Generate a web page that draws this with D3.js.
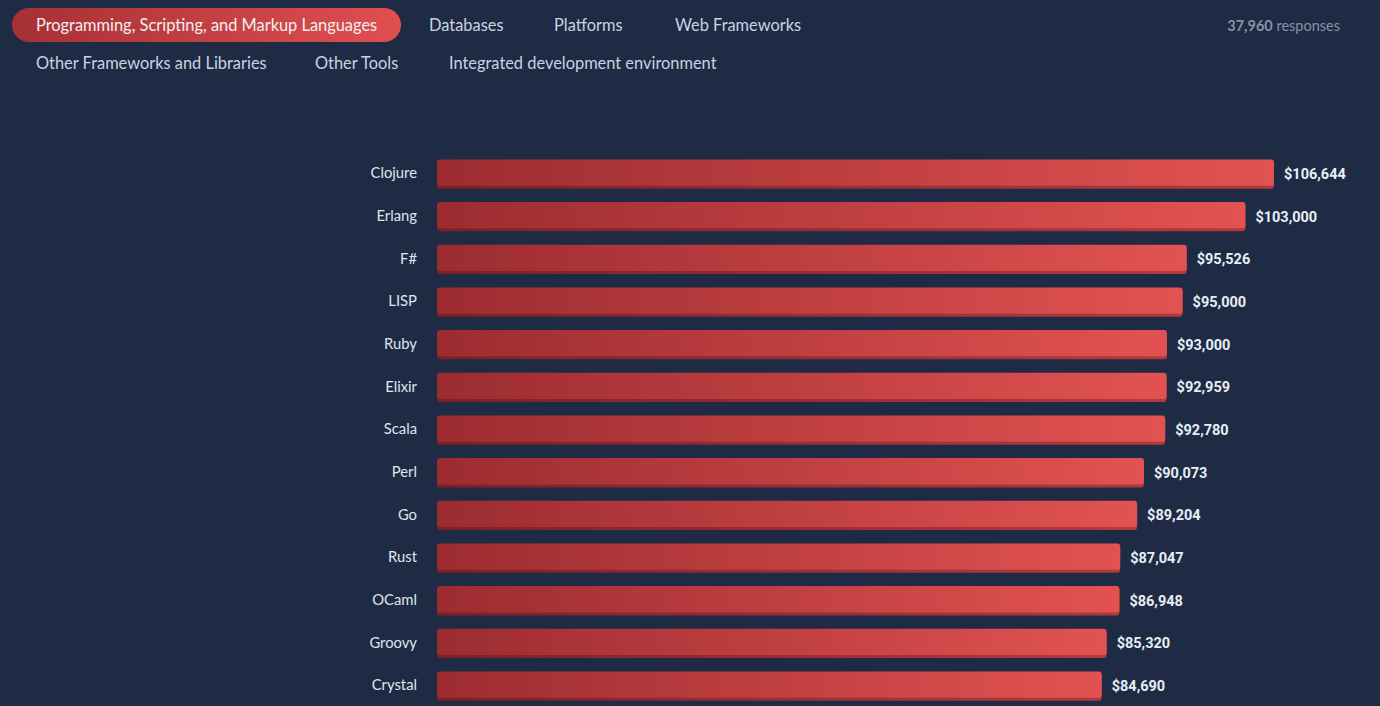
<!DOCTYPE html>
<html><head><meta charset="utf-8">
<script src="https://cdn.jsdelivr.net/npm/d3@7"></script>
<style>
html,body{margin:0;padding:0;background:#1f2a44;}
svg{display:block;}
</style></head>
<body>
<svg id="chart" width="1380" height="706"></svg>
<script>
const languages = ["Clojure","Erlang","F#","LISP","Ruby","Elixir","Scala","Perl","Go","Rust","OCaml","Groovy","Crystal"];
const salaries = [106644,103000,95526,95000,93000,92959,92780,90073,89204,87047,86948,85320,84690];
const tabsRow1 = ["Programming, Scripting, and Markup Languages","Databases","Platforms","Web Frameworks"];
const tabsRow2 = ["Other Frameworks and Libraries","Other Tools","Integrated development environment"];
const responses = 37960;

const svg = d3.select("#chart");
const W = 1380, H = 706;
svg.append("rect").attr("width",W).attr("height",H).attr("fill","#1f2a44");

const defs = svg.append("defs");
const g1 = defs.append("linearGradient").attr("id","barGrad").attr("x1","0%").attr("x2","100%");
g1.append("stop").attr("offset","0%").attr("stop-color","#9c2c30");
g1.append("stop").attr("offset","100%").attr("stop-color","#e35252");
const g2 = defs.append("linearGradient").attr("id","barShade").attr("x1","0%").attr("x2","100%");
g2.append("stop").attr("offset","0%").attr("stop-color","#7a2226");
g2.append("stop").attr("offset","100%").attr("stop-color","#b13a3d");
const g3 = defs.append("linearGradient").attr("id","pillGrad").attr("x1","0%").attr("x2","100%");
g3.append("stop").attr("offset","0%").attr("stop-color","#a63035");
g3.append("stop").attr("offset","100%").attr("stop-color","#e04f51");

const sans = "'Source Sans Pro', Lato, 'Noto Sans', sans-serif";
const slab = "'Roboto Slab', Roboto, sans-serif";

// Tabs
const tabX1 = [36, 429, 554, 675];
const tabX2 = [36, 315, 449];
svg.append("rect").attr("x",12).attr("y",8).attr("width",389).attr("height",34)
  .attr("rx",17).attr("fill","url(#pillGrad)");
svg.selectAll("text.tab1").data(tabsRow1).join("text")
  .attr("class","tab1")
  .attr("x",(d,i)=>tabX1[i]).attr("y",25).attr("dy","0.35em")
  .attr("font-family",sans).attr("font-size",16.4)
  .attr("fill",(d,i)=> i===0 ? "#f3f0f0" : "#c9d3e1")
  .text(d=>d);
svg.selectAll("text.tab2").data(tabsRow2).join("text")
  .attr("class","tab2")
  .attr("x",(d,i)=>tabX2[i]).attr("y",63).attr("dy","0.35em")
  .attr("font-family",sans).attr("font-size",16.4)
  .attr("fill","#c9d3e1")
  .text(d=>d);

const resp = svg.append("text").attr("x",1340).attr("y",26).attr("dy","0.35em")
  .attr("text-anchor","end").attr("font-family",sans).attr("font-size",14.5).attr("fill","#8793a8");
resp.append("tspan").attr("font-weight","bold").text(d3.format(",")(responses));
resp.append("tspan").text(" responses");

// Scales
const x = d3.scaleLinear().domain([0, d3.max(salaries)]).range([437, 1274]);
const y = d3.scaleBand().domain(languages).range([151.7, 151.7 + 42.67*languages.length]).paddingInner(0.36).paddingOuter(0.18);
const data = languages.map((l,i)=>({lang:l, val:salaries[i]}));
const bh = y.bandwidth();

const rows = svg.selectAll("g.row").data(data).join("g").attr("class","row");
rows.append("rect")
  .attr("x",x(0)).attr("y",d=>y(d.lang)+2)
  .attr("width",d=>x(d.val)-x(0)).attr("height",bh)
  .attr("rx",3).attr("fill","url(#barShade)");
rows.append("rect")
  .attr("x",x(0)).attr("y",d=>y(d.lang))
  .attr("width",d=>x(d.val)-x(0)).attr("height",bh-1)
  .attr("rx",3).attr("fill","url(#barGrad)");

rows.append("text")
  .attr("x",417).attr("y",d=>y(d.lang)+bh/2).attr("dy","0.35em")
  .attr("text-anchor","end").attr("font-family",sans).attr("font-size",14.8)
  .attr("fill","#dfe6ef").text(d=>d.lang);

const fmt = d3.format("$,");
rows.append("text")
  .attr("x",d=>x(d.val)+10).attr("y",d=>y(d.lang)+bh/2+1).attr("dy","0.35em")
  .attr("font-family",slab).attr("font-weight","bold").attr("font-size",14.5)
  .attr("fill","#e8eef6").text(d=>fmt(d.val));
</script>
</body></html>
